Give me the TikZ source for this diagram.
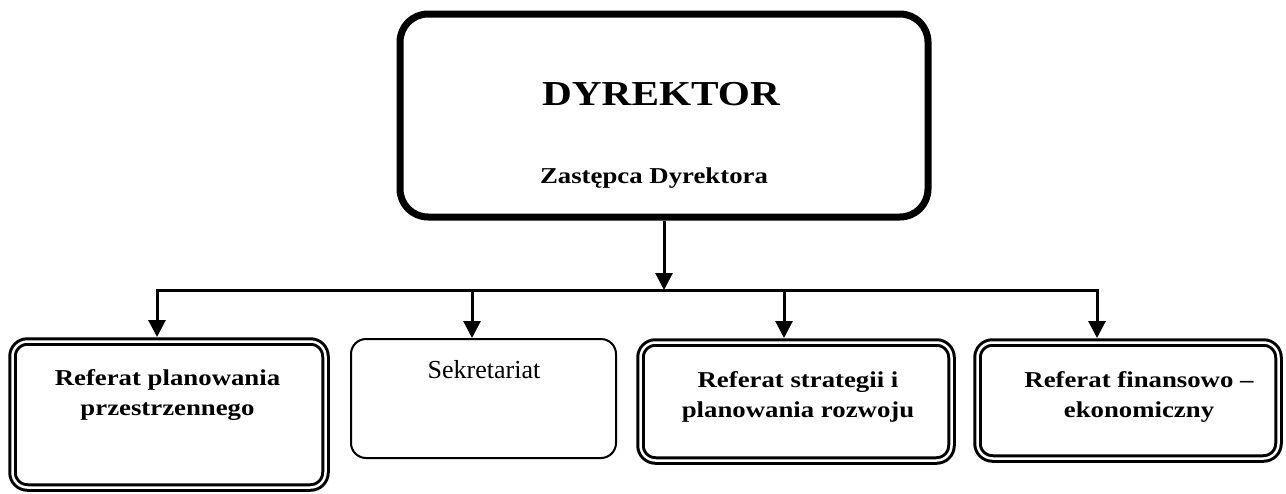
\documentclass[tikz,border=0pt]{standalone}
\usepackage{fontspec}
\setmainfont{Liberation Serif}
\usepackage{graphicx}
\usetikzlibrary{arrows.meta}

% bold captions are set slightly widened, one or more centred lines
\newcommand\widebold[1]{\scalebox{1.18}[1]{\begin{tabular}[t]{@{}c@{}}#1\end{tabular}}}

\begin{document}
\begin{tikzpicture}[x=1pt,y=-1pt,
  topbox/.style={draw, line width=7pt, rounded corners=28pt, inner sep=0pt, outer sep=3.5pt},
  dbox/.style={draw, line width=3pt, double=white, double distance=2.5pt,
               rounded corners=15pt, inner sep=0pt, outer sep=4.5pt},
  sbox/.style={draw, line width=2pt, rounded corners=15pt, inner sep=0pt, outer sep=1pt},
  lbl/.style={font=\bfseries\fontsize{22.7}{30}\selectfont, inner sep=0pt, anchor=base},
  link/.style={line width=3pt, line join=miter},
  arr/.style={link, -{Triangle[width=17pt,length=17pt]}}
]
\useasboundingbox (0,0) rectangle (1286,493);

% director box
\node[topbox, minimum width=528pt, minimum height=203pt] (dir) at (664,115.5) {};
\node[lbl, font=\bfseries\fontsize{35}{40}\selectfont] (dirname) at (661,105) {\widebold{DYREKTOR}};
\node[lbl] (deputy) at (654,183) {\widebold{Zastępca Dyrektora}};

% departments
\node[dbox, minimum width=313pt, minimum height=146pt] (b1) at (169,414.5) {};
\node[lbl] (t1) at (167.5,385) {\widebold{Referat planowania\\przestrzennego}};

\node[sbox, minimum width=265pt, minimum height=119pt] (b2) at (483.5,398.5) {};
\node[lbl, font=\fontsize{26}{30}\selectfont] (t2) at (484,378) {Sekretariat};

\node[dbox, minimum width=311pt, minimum height=118pt] (b3) at (796,401.5) {};
\node[lbl] (t3) at (798,387) {\widebold{Referat strategii i\\planowania rozwoju}};

\node[dbox, minimum width=301pt, minimum height=116pt] (b4) at (1128,400.5) {};
\node[lbl] (t4) at (1139,387) {\widebold{Referat finansowo –\\ekonomiczny}};

% distribution bus
\coordinate (j1) at (157,290);
\coordinate (j2) at (472,290);
\coordinate (j3) at (784,290);
\coordinate (j4) at (1097,290);

\draw[arr] (dir.south) -- (dir.south |- j1);
\draw[arr] (j3) -- (j1) -- (j1 |- b1.north);
\draw[arr] (j3) -- (j4) -- (j4 |- b4.north);
\draw[arr] (j2) -- (j2 |- b2.north);
\draw[arr] (j3) -- (j3 |- b3.north);
\end{tikzpicture}
\end{document}
